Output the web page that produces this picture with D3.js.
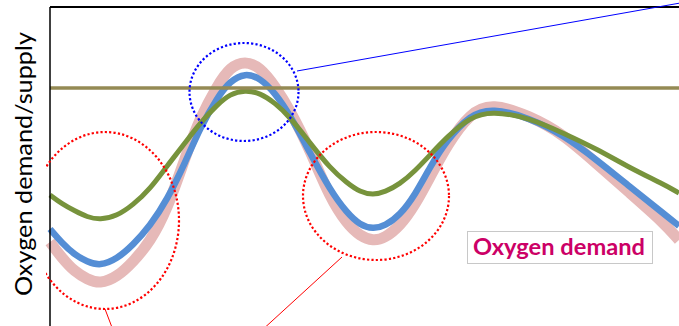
<!DOCTYPE html>
<html>
<head>
<meta charset="utf-8">
<script src="https://cdn.jsdelivr.net/npm/d3@7"></script>
<style>
  html, body { margin: 0; padding: 0; background: #fff; }
  svg { display: block; }
</style>
</head>
<body>
<svg id="chart" width="679" height="326"></svg>
<script>
// ---- data (arbitrary units: time along x, oxygen level along y) ----
const time        = [0, 1.2, 2.5, 3.7, 5, 6.7, 8.3, 10, 11.7, 13.5, 15, 16.7, 18, 19.5, 21, 22.5, 24, 26, 28, 29.7, 31, 32.3, 33.5, 35, 36.5, 38, 39.7, 42, 44.2, 48, 51.3, 54.7, 58, 61.3, 62.9];
const demandUpper = [8.4, 6.8, 5.4, 4.7, 4.2, 4.9, 6.4, 8.4, 11.6, 16.8, 20.8, 24.0, 25.9, 26.5, 25.9, 24.0, 21.6, 17.6, 12.8, 10.2, 9.0, 8.5, 8.8, 10.0, 12.1, 14.9, 18.1, 21.3, 22.3, 21.0, 19.2, 16.2, 13.3, 10.4, 8.6];
const demandLine  = [9.7, 8.3, 7.1, 6.45, 6.0, 6.7, 8.1, 10.0, 12.6, 16.3, 19.8, 22.8, 24.5, 25.3, 24.8, 23.3, 21.1, 17.3, 13.6, 11.3, 10.1, 9.7, 10.0, 11.1, 13.1, 15.9, 18.6, 21.1, 21.8, 20.8, 19.1, 16.6, 13.9, 11.3, 10.0];
const supply      = [13.1, 12.2, 11.5, 10.9, 10.6, 11.0, 12.1, 13.7, 16.0, 18.3, 20.3, 22.1, 23.2, 23.6, 23.3, 22.3, 20.9, 18.3, 15.8, 14.3, 13.4, 13.1, 13.4, 14.2, 15.5, 17.1, 18.9, 20.9, 21.5, 20.8, 19.3, 17.7, 15.8, 14.2, 13.3];
const limitLevel = 23.8;
const yLabel = "Oxygen demand/supply";
const boxLabel = "Oxygen demand";
// highlighted regions: [centre time, centre level, half-width, half-height]
const highlightLows = [[5.5, 10.55, 7.4, 8.85], [32.6, 13.0, 7.3, 6.4]];
const highlightPeak = [19.4, 23.4, 5.45, 4.9];

const svg = d3.select("#chart");
const W = 679, H = 326;
const x = d3.scaleLinear().domain([0, 62.9]).range([50, 679]);
const y = d3.scaleLinear().domain([0, 31.9]).range([326, 7]);

svg.append("defs").append("clipPath").attr("id", "plotclip")
  .append("rect").attr("x", 46).attr("y", 0).attr("width", W).attr("height", H);

const line = d3.line().x((d, i) => x(time[i])).y(d => y(d)).curve(d3.curveBasis);

// curves
svg.append("path").attr("d", line(demandUpper)).attr("fill", "none")
  .attr("stroke", "#E6B9B8").attr("stroke-width", 11).attr("stroke-linecap", "butt");
svg.append("path").attr("d", line(demandLine)).attr("fill", "none")
  .attr("stroke", "#558ED5").attr("stroke-width", 6.5);
svg.append("path").attr("d", line(supply)).attr("fill", "none")
  .attr("stroke", "#77933C").attr("stroke-width", 5);

// limit line
svg.append("line").attr("x1", x(0)).attr("x2", W).attr("y1", y(limitLevel)).attr("y2", y(limitLevel))
  .attr("stroke", "#948A54").attr("stroke-width", 3.5);

// axes frame
svg.append("line").attr("x1", 50).attr("x2", 50).attr("y1", 7).attr("y2", H)
  .attr("stroke", "#000").attr("stroke-width", 1.5);
svg.append("line").attr("x1", 50).attr("x2", W).attr("y1", 7).attr("y2", 7)
  .attr("stroke", "#000").attr("stroke-width", 2);

// highlight ellipses
const g = svg.append("g").attr("clip-path", "url(#plotclip)");
highlightLows.forEach(e => {
  g.append("ellipse")
    .attr("cx", x(e[0])).attr("cy", y(e[1]))
    .attr("rx", x(e[2]) - x(0)).attr("ry", y(0) - y(e[3]))
    .attr("fill", "none").attr("stroke", "#FF0000").attr("stroke-width", 2.2)
    .attr("stroke-dasharray", "2.2 2.2");
});
g.append("ellipse")
  .attr("cx", x(highlightPeak[0])).attr("cy", y(highlightPeak[1]))
  .attr("rx", x(highlightPeak[2]) - x(0)).attr("ry", y(0) - y(highlightPeak[3]))
  .attr("fill", "none").attr("stroke", "#0000FF").attr("stroke-width", 2.2)
  .attr("stroke-dasharray", "2.2 2.2");

// leader lines
svg.append("line").attr("x1", 297).attr("y1", 71).attr("x2", 700).attr("y2", -0.5)
  .attr("stroke", "#0000FF").attr("stroke-width", 1);
svg.append("line").attr("x1", 105).attr("y1", 309).attr("x2", 113).attr("y2", 330)
  .attr("stroke", "#FF0000").attr("stroke-width", 1);
svg.append("line").attr("x1", 342).attr("y1", 257).attr("x2", 260).attr("y2", 332)
  .attr("stroke", "#FF0000").attr("stroke-width", 1);

// label box
svg.append("rect").attr("x", 467.5).attr("y", 231.5).attr("width", 185).attr("height", 32)
  .attr("fill", "#fff").attr("stroke", "#C8C8C8").attr("stroke-width", 1);
svg.append("text").attr("x", 473).attr("y", 255)
  .attr("font-family", "Lato, 'Open Sans', sans-serif").attr("font-weight", "bold")
  .attr("font-size", 22).attr("fill", "#CC0066")
  .attr("textLength", 172).attr("lengthAdjust", "spacingAndGlyphs")
  .text(boxLabel);

// y label
svg.append("text")
  .attr("transform", "translate(32,164) rotate(-90)")
  .attr("text-anchor", "middle")
  .attr("font-family", "Lato, 'Open Sans', sans-serif")
  .attr("font-size", 24).attr("fill", "#000")
  .attr("textLength", 264).attr("lengthAdjust", "spacingAndGlyphs")
  .text(yLabel);
</script>
</body>
</html>
